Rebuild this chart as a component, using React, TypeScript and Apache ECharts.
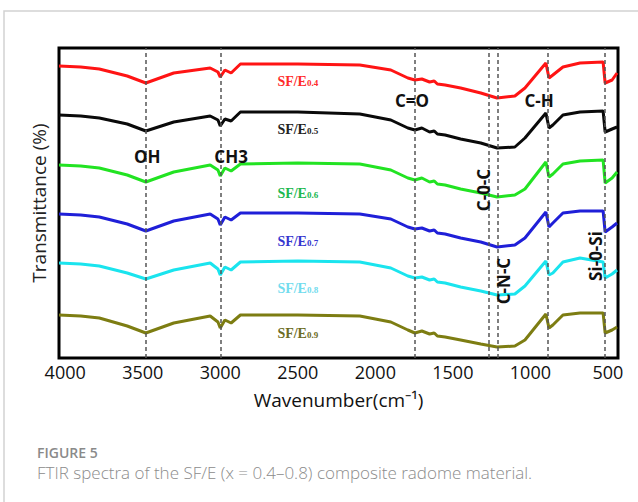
import React, { useEffect, useRef } from "react";
import * as echarts from "echarts";

// Wavenumbers (cm-1) at which the spectra were read
const wavenumbers = [4040, 3900, 3780, 3600, 3480, 3300, 3065, 3015, 3000, 2970, 2930, 2870, 2500, 2100, 1900, 1790, 1745, 1700, 1650, 1620, 1600, 1550, 1450, 1320, 1215, 1100, 1035, 900, 880, 855, 790, 680, 531, 518, 473, 441];

// Transmittance (arbitrary stacked units)
const sfe04 = [292, 291, 289, 282, 275, 285, 290, 286, 281, 288, 285, 294, 294, 293, 288, 280, 278, 279, 276, 277, 274, 273, 270, 265, 260, 262, 270, 295, 280, 283, 291, 295, 296, 275, 278, 285];
const sfe05 = [243, 242, 240, 234, 227, 236, 242, 238, 232, 239, 237, 246, 246, 244, 238, 230, 228, 230, 226, 227, 224, 223, 219, 215, 210, 211, 220, 245, 230, 233, 243, 246, 247, 226, 229, 231];
const sfe06 = [193, 192, 190, 183, 176, 186, 193, 188, 182, 190, 187, 194, 195, 194, 188, 180, 178, 180, 176, 177, 174, 173, 169, 165, 161, 163, 169, 196, 181, 184, 194, 197, 198, 175, 180, 186];
const sfe07 = [144, 143, 141, 134, 127, 137, 144, 139, 133, 141, 138, 145, 145, 144, 139, 131, 129, 130, 127, 128, 125, 124, 120, 116, 111, 113, 120, 146, 131, 135, 145, 147, 147, 126, 131, 135];
const sfe08 = [95, 94, 92, 85, 79, 88, 95, 89, 83, 91, 88, 96, 97, 96, 90, 82, 80, 81, 78, 79, 76, 75, 71, 67, 63, 64, 72, 97, 83, 85, 96, 100, 96, 80, 84, 88];
const sfe09 = [43, 42, 40, 32, 25, 35, 42, 36, 30, 38, 35, 43, 43, 42, 36, 28, 25, 27, 24, 25, 22, 21, 18, 14, 11, 12, 18, 44, 30, 33, 43, 45, 45, 25, 28, 31];

const seriesSubs = ["0.4", "0.5", "0.6", "0.7", "0.8", "0.9"];
const seriesValues = [sfe04, sfe05, sfe06, sfe07, sfe08, sfe09];
const lineColors = ["#ff1414", "#0a0a0a", "#22e322", "#1f1fd8", "#1ae4ee", "#7d7d12"];
const labelColors = ["#ff2b2b", "#222222", "#20b850", "#3636cf", "#72dcee", "#6c6c24"];
// label anchor (wavenumber, value) for each series name
const seriesLabelX = [2500, 2500, 2500, 2500, 2500, 2500];
const seriesLabelY = [277, 229, 165, 117, 70, 25];

// Characteristic bands (dashed reference lines)
const bandLines = [3480, 3000, 1745, 1270, 1210, 886, 518];

// Band annotations
const bandNames = ["OH", "CH3", "C=O", "C-H", "C-0-C", "C-N-C", "Si-0-Si"];
const bandX = [3471, 2930, 1763, 944, 1305, 1176, 583];
const bandY = [202, 202, 258, 258, 168, 77, 102];
const bandRotate = [0, 0, 0, 0, 90, 90, 90];

const xTicks = [4000, 3500, 3000, 2500, 2000, 1500, 1000, 500];

export default function App() {
  const ref = useRef<HTMLDivElement>(null);

  useEffect(() => {
    if (!ref.current) return;
    const chart = echarts.init(ref.current, null, { renderer: "svg" });

    const spectra = seriesValues.map((vals, si) => ({
      type: "line",
      name: "SF/E" + seriesSubs[si],
      data: wavenumbers.map((w, i) => [w, vals[i]]),
      showSymbol: false,
      symbol: "none",
      z: 3,
      lineStyle: { color: lineColors[si], width: 3 },
      itemStyle: { color: lineColors[si] },
      markPoint: {
        symbol: "circle",
        symbolSize: 0,
        itemStyle: { color: "transparent" },
        label: {
          show: true,
          position: "inside",
          formatter: "{a|SF/E}{b|" + seriesSubs[si] + "}",
          rich: {
            a: { fontFamily: "Liberation Serif", fontWeight: "bold", fontSize: 14, color: labelColors[si] },
            b: { fontFamily: "Liberation Serif", fontWeight: "bold", fontSize: 9, color: labelColors[si], padding: [4, 0, 0, 0] },
          },
        },
        data: [{ coord: [seriesLabelX[si], seriesLabelY[si]] }],
      },
    }));

    const option: any = {
      animation: false,
      backgroundColor: "#ffffff",
      grid: {
        left: 59,
        top: 48,
        width: 559,
        height: 310,
        show: true,
        borderColor: "#000",
        borderWidth: 3,
        backgroundColor: "transparent",
      },
      xAxis: {
        type: "value",
        min: 435,
        max: 4040,
        inverse: true,
        axisLine: { show: false },
        axisTick: { show: false },
        splitLine: { show: false },
        axisLabel: {
          customValues: xTicks,
          formatter: (v: number) => String(Math.round(v)),
          color: "#111",
          fontFamily: "Open Sans",
          fontSize: 18,
          margin: 5,
          showMinLabel: true,
          showMaxLabel: true,
        },
        name: "Wavenumber(cm⁻¹)",
        nameLocation: "middle",
        nameGap: 32,
        nameTextStyle: { color: "#111", fontFamily: "Open Sans", fontSize: 19 },
      },
      yAxis: {
        type: "value",
        min: 0,
        max: 310,
        axisLine: { show: false },
        axisTick: { show: false },
        axisLabel: { show: false },
        splitLine: { show: false },
        name: "Transmittance (%)",
        nameLocation: "middle",
        nameGap: 11,
        nameTextStyle: { color: "#222", fontFamily: "Open Sans", fontSize: 19 },
      },
      graphic: [
        {
          type: "rect",
          z: -10,
          shape: { x: 4, y: 11, width: 700, height: 600 },
          style: { fill: "none", stroke: "#d2d2d2", lineWidth: 1.5 },
        },
        {
          type: "text",
          left: 37,
          top: 445,
          style: { text: "FIGURE 5", fill: "#8a8a8a", font: "600 14px 'Open Sans'" },
        },
        {
          type: "text",
          left: 37,
          top: 464,
          style: {
            text: "FTIR spectra of the SF/E (x = 0.4–0.8) composite radome material.",
            fill: "#8c8c8c",
            font: "300 17px 'Open Sans'",
          },
        },
      ],
      series: [
        {
          type: "line",
          name: "bands",
          data: [],
          z: 1,
          markLine: {
            silent: true,
            symbol: "none",
            label: { show: false },
            lineStyle: { color: "#555", width: 1.5, type: [4, 3] },
            data: bandLines.map((v) => ({ xAxis: v })),
          },
        },
        ...spectra,
        {
          type: "line",
          name: "annotations",
          data: [],
          z: 5,
          markPoint: {
            symbol: "circle",
            symbolSize: 0,
            itemStyle: { color: "transparent" },
            data: bandNames.map((n, i) => ({
              coord: [bandX[i], bandY[i]],
              label: {
                show: true,
                position: "inside",
                formatter: n,
                rotate: bandRotate[i],
                color: "#111",
                fontFamily: "Open Sans",
                fontWeight: "bold",
                fontSize: 17,
              },
            })),
          },
        },
      ],
    };

    chart.setOption(option);
    return () => chart.dispose();
  }, []);

  return (
    <div
      ref={ref}
      style={{ position: "fixed", left: 0, top: 0, width: 638, height: 502, background: "#fff" }}
    />
  );
}
